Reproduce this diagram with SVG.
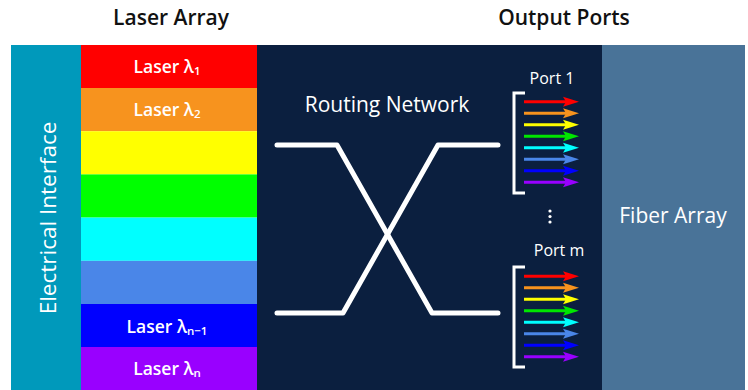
<svg xmlns="http://www.w3.org/2000/svg" width="748" height="390" viewBox="0 0 748 390">
<style>
.t{font-family:"Open Sans","Noto Sans","Liberation Sans",sans-serif}
.title{font-size:21px;font-weight:600;fill:#111;text-anchor:middle}
.lab{font-size:17.5px;font-weight:600;fill:#fff;text-anchor:middle}
.w{font-size:21px;fill:#fff;text-anchor:middle}
.p{font-size:16px;fill:#fff;text-anchor:middle}
.route{fill:none;stroke:#fff;stroke-width:5;stroke-linecap:round;stroke-linejoin:round}
.br{fill:none;stroke:#fff;stroke-width:3}
.ar{stroke-width:3}
</style>
<defs>
<g id="arrows">
<line class="ar" x1="524" y1="0" x2="567" y2="0" stroke="#ff0000"/><polygon points="579,0 563,-5 566,0 563,5" fill="#ff0000"/>
<line class="ar" x1="524" y1="11.5" x2="567" y2="11.5" stroke="#f7931e"/><polygon points="579,11.5 563,6.5 566,11.5 563,16.5" fill="#f7931e"/>
<line class="ar" x1="524" y1="23" x2="567" y2="23" stroke="#ffff00"/><polygon points="579,23 563,18 566,23 563,28" fill="#ffff00"/>
<line class="ar" x1="524" y1="34.5" x2="567" y2="34.5" stroke="#00e600"/><polygon points="579,34.5 563,29.5 566,34.5 563,39.5" fill="#00e600"/>
<line class="ar" x1="524" y1="46" x2="567" y2="46" stroke="#00ffff"/><polygon points="579,46 563,41 566,46 563,51" fill="#00ffff"/>
<line class="ar" x1="524" y1="57.5" x2="567" y2="57.5" stroke="#4a86e8"/><polygon points="579,57.5 563,52.5 566,57.5 563,62.5" fill="#4a86e8"/>
<line class="ar" x1="524" y1="69" x2="567" y2="69" stroke="#0000ff"/><polygon points="579,69 563,64 566,69 563,74" fill="#0000ff"/>
<line class="ar" x1="524" y1="80.5" x2="567" y2="80.5" stroke="#9900ff"/><polygon points="579,80.5 563,75.5 566,80.5 563,85.5" fill="#9900ff"/>
</g>
</defs>
<rect width="748" height="390" fill="#fff"/>
<text class="t title" x="171" y="25">Laser Array</text>
<text class="t title" x="564" y="25">Output Ports</text>

<g id="electrical-interface">
<rect x="11" y="45" width="70" height="345" fill="#0099bb"/>
<text class="t w" transform="translate(56,218) rotate(-90)" style="font-size:22.5px">Electrical Interface</text>
</g>

<g id="laser-array">
<rect x="81" y="45" width="176" height="43.2" fill="#ff0000"/>
<rect x="81" y="88" width="176" height="43.2" fill="#f7931e"/>
<rect x="81" y="131.2" width="176" height="43.2" fill="#ffff00"/>
<rect x="81" y="174.4" width="176" height="43.2" fill="#00ff00"/>
<rect x="81" y="217.6" width="176" height="43.2" fill="#00ffff"/>
<rect x="81" y="260.8" width="176" height="43.2" fill="#4a86e8"/>
<rect x="81" y="304" width="176" height="43.2" fill="#0000ff"/>
<rect x="81" y="347" width="176" height="43" fill="#9900ff"/>
<text class="t lab" x="167" y="73">Laser λ<tspan font-size="11.5" dy="2">1</tspan></text>
<text class="t lab" x="167" y="116">Laser λ<tspan font-size="11.5" dy="2">2</tspan></text>
<text class="t lab" x="167" y="333">Laser λ<tspan font-size="11.5" dy="2">n−1</tspan></text>
<text class="t lab" x="167" y="375">Laser λ<tspan font-size="11.5" dy="2">n</tspan></text>
</g>

<g id="routing-network">
<rect x="257" y="45" width="345" height="345" fill="#0b1f3f"/>
<text class="t w" x="387" y="112">Routing Network</text>
</g>

<g id="fiber-array">
<rect x="602" y="45" width="143" height="345" fill="#497398"/>
<text class="t w" x="673" y="223">Fiber Array</text>
</g>

<g id="connectors">
<polyline class="route" points="277,145 337,145 432,313 498,313"/>
<polyline class="route" points="277,313 343,313 438,145 498,145"/>
</g>

<g id="port-1">
<text class="t p" x="552" y="84">Port 1</text>
<polyline class="br" points="525,93 514,93 514,193 525,193"/>
<use href="#arrows" y="101.7"/>
</g>

<g id="ellipsis">
<circle cx="550" cy="211" r="1.6" fill="#fff"/>
<circle cx="550" cy="216.5" r="1.6" fill="#fff"/>
<circle cx="550" cy="222" r="1.6" fill="#fff"/>
</g>

<g id="port-m">
<text class="t p" x="559" y="256">Port m</text>
<polyline class="br" points="525,267 514,267 514,367 525,367"/>
<use href="#arrows" y="276.3"/>
</g>
</svg>
